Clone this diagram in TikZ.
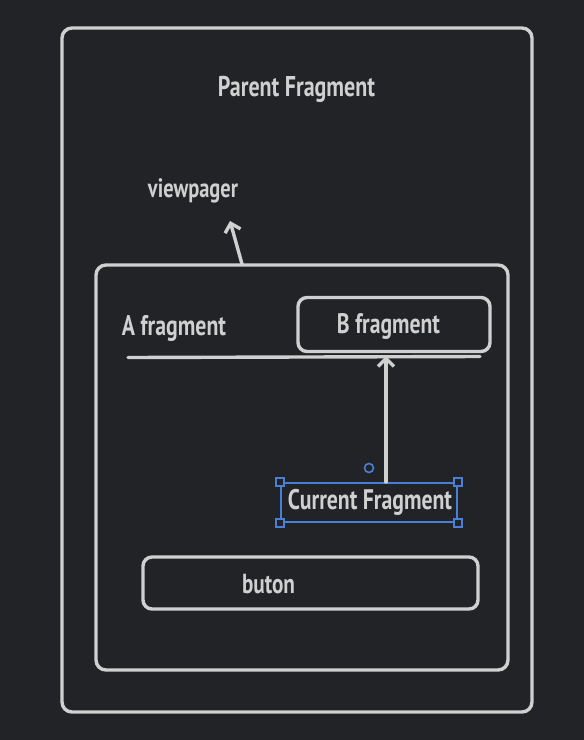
\documentclass[tikz,border=0pt]{standalone}
\usepackage{fontspec}
\setmainfont{PT Sans}
\usetikzlibrary{arrows.meta}
\definecolor{bg}{HTML}{212327}
\definecolor{ink}{HTML}{D0D0D0}
\definecolor{sel}{HTML}{4A7FD8}
\newcommand{\fittext}[2]{\resizebox{#1pt}{!}{\scalebox{1}[1.3]{\bfseries #2}}}
\tikzset{
  frame/.style={draw=ink, line width=3.4pt, rounded corners=10pt},
  lbl/.style={text=ink, inner sep=0pt, anchor=center},
  conn/.style={draw=ink, line width=3.4pt, line cap=round, -{Straight Barb[length=8pt,width=16pt,line width=3.4pt]}},
  handle/.style={draw=sel, line width=1.6pt, fill=bg, minimum size=8pt, inner sep=0pt},
}
\begin{document}
\begin{tikzpicture}[x=1pt,y=-1pt]
\fill[bg] (0,0) rectangle (584,740);
\useasboundingbox (0,0) rectangle (584,740);
% outer frame
\node[frame, minimum width=470pt, minimum height=684pt, inner sep=0pt] (outer) at (297,370) {};
% inner frame
\node[frame, minimum width=412pt, minimum height=405pt, inner sep=0pt] (inner) at (302,467.5) {};
\node[lbl] (parent) at (296.5,89) {\fittext{157}{Parent Fragment}};
\node[lbl] (vp) at (193,191) {\fittext{90}{viewpager}};
\coordinate (vpbot) at (242,264);
\coordinate (vptip) at (230,221);
\draw[conn] (vpbot) -- (vptip);
\node[lbl] (afrag) at (174,328) {\fittext{104}{A fragment}};
\node[frame, minimum width=192pt, minimum height=54pt, inner sep=0pt, rounded corners=9pt] (bbox) at (394,324.5) {};
\node[lbl] (bfrag) at (388.5,326) {\fittext{103}{B fragment}};
\coordinate (lineL) at (128,357.5);
\coordinate (lineR) at (480,356.5);
\draw[ink, line width=3.4pt, line cap=round] (lineL) -- (lineR);
\node[draw=sel, line width=2pt, minimum width=176pt, minimum height=39pt, inner sep=0pt] (cur) at (369,502.5) {};
\node[lbl] (curtext) at (370,502) {\fittext{164}{Current Fragment}};
\foreach \c in {north west, north east, south west, south east} \node[handle] at (cur.\c) {};
\node[draw=sel, line width=1.6pt, circle, minimum size=9pt, inner sep=0pt] (rot) at (369,468) {};
\coordinate (arrstart) at (386,482);
\coordinate (arrend) at (386,356);
\draw[conn] (arrstart) -- (arrend);
\node[frame, minimum width=335pt, minimum height=52pt, inner sep=0pt, rounded corners=9pt] (btn) at (310.5,583) {};
\node[lbl] (buttxt) at (268.5,584) {\fittext{53}{buton}};
\end{tikzpicture}
\end{document}
